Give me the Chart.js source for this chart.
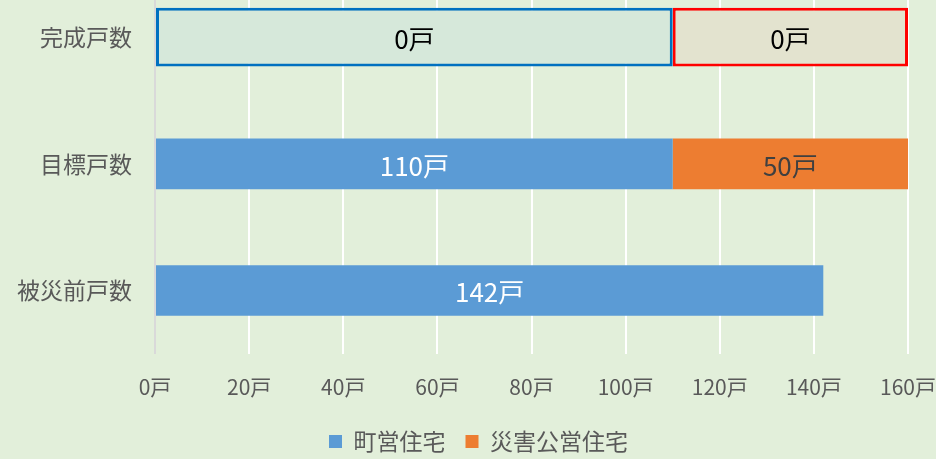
<!DOCTYPE html>
<html>
<head>
<meta charset="utf-8">
<script src="https://cdn.jsdelivr.net/npm/chart.js@4/dist/chart.umd.min.js"></script>
<style>
  html, body { margin: 0; padding: 0; background: #E2EFDA; overflow: hidden; }
  #wrap { position: absolute; left: 0; top: -63px; width: 957px; height: 526px; }
</style>
</head>
<body>
<div id="wrap"><canvas id="barChart"></canvas></div>
<script>
// categories (top to bottom)
const categories = ['完成戸数', '目標戸数', '被災前戸数'];
// series values
const townHousing = [0, 110, 142];      // 町営住宅
const disasterHousing = [0, 50, 0];     // 災害公営住宅
// target frame drawn behind the completed row
const frameTown = [110, null, null];
const frameDisaster = [50, null, null];
// completed values shown inside the frames
const completedTown = 0;
const completedDisaster = 0;
const xTicks = [0, 20, 40, 60, 80, 100, 120, 140, 160];

const FONT = '"Noto Sans CJK JP", "Noto Sans", sans-serif';

const labelPlugin = {
    id: 'barLabels',
    afterDatasetsDraw(chart) {
        const ctx = chart.ctx;
        ctx.save();
        ctx.font = '26px ' + FONT;
        ctx.textAlign = 'center';
        ctx.textBaseline = 'middle';
        chart.data.datasets.forEach((ds, i) => {
            const meta = chart.getDatasetMeta(i);
            meta.data.forEach((bar, j) => {
                const v = ds.data[j];
                if (v === null || v === 0) return;
                let text = v + '戸';
                if (ds.frameLabel !== undefined) text = ds.frameLabel + '戸';
                ctx.fillStyle = ds.labelColor;
                ctx.fillText(text, (bar.x + bar.base) / 2, bar.y + 2);
            });
        });
        ctx.restore();
    }
};

const ctx = document.getElementById('barChart').getContext('2d');

const barChart = new Chart(ctx, {
    type: 'bar',
    data: {
        labels: categories,
        datasets: [
            {
                label: '町営住宅',
                data: townHousing,
                backgroundColor: '#5B9BD5',
                labelColor: '#FFFFFF',
                categoryPercentage: 0.8,
                barPercentage: 0.5
            },
            {
                label: '災害公営住宅',
                data: disasterHousing,
                backgroundColor: '#ED7D31',
                labelColor: '#404040',
                categoryPercentage: 0.8,
                barPercentage: 0.5
            },
            {
                label: 'frameTown',
                data: frameTown,
                backgroundColor: '#D6E8DA',
                borderColor: '#0070C0',
                borderWidth: 3,
                borderSkipped: false,
                labelColor: '#000000',
                frameLabel: completedTown,
                categoryPercentage: 0.8,
                barPercentage: 0.58
            },
            {
                label: 'frameDisaster',
                data: frameDisaster,
                backgroundColor: '#E3E3CF',
                borderColor: '#FF0000',
                borderWidth: 3,
                borderSkipped: false,
                labelColor: '#000000',
                frameLabel: completedDisaster,
                categoryPercentage: 0.8,
                barPercentage: 0.58
            }
        ]
    },
    options: {
        indexAxis: 'y',
        responsive: true,
        maintainAspectRatio: false,
        animation: false,
        layout: { padding: { left: 0, right: 0, top: 0, bottom: 0 } },
        scales: {
            x: {
                stacked: true,
                min: 0,
                max: 160,
                afterBuildTicks: (axis) => { axis.ticks = xTicks.map(v => ({ value: v })); },
                afterFit: (axis) => { axis.height -= 11; },
                ticks: {
                    callback: (v) => v + '戸',
                    color: '#595959',
                    font: { family: FONT, size: 21 },
                    padding: 21,
                    maxRotation: 0
                },
                grid: {
                    color: (c) => c.tick && c.tick.value === 0 ? '#D9D9D9' : '#FFFFFF',
                    lineWidth: 2,
                    drawTicks: false
                },
                border: { display: false }
            },
            y: {
                stacked: true,
                afterFit: (axis) => { axis.width = 155; },
                ticks: {
                    color: '#595959',
                    font: { family: FONT, size: 23 },
                    padding: 23
                },
                grid: { display: false, drawTicks: false },
                border: { display: false }
            }
        },
        plugins: {
            legend: {
                display: true,
                position: 'bottom',
                labels: {
                    filter: (item) => item.text.indexOf('frame') !== 0,
                    boxWidth: 13,
                    boxHeight: 13,
                    color: '#595959',
                    font: { family: FONT, size: 23 },
                    padding: 20
                }
            },
            tooltip: { enabled: false }
        }
    },
    plugins: [labelPlugin]
});
</script>
</body>
</html>
